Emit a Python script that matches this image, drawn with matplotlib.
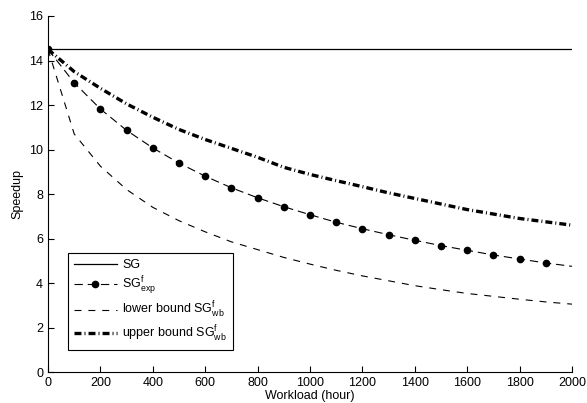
import numpy as np
import matplotlib
matplotlib.use("Agg")
import matplotlib.pyplot as plt

plt.rcParams['font.family'] = ['Liberation Sans', 'DejaVu Sans']
plt.rcParams['mathtext.fontset'] = 'custom'
plt.rcParams['mathtext.rm'] = 'Liberation Sans'
plt.rcParams['mathtext.it'] = 'Liberation Sans'
plt.rcParams['lines.scale_dashes'] = False

workload = [0, 100, 200, 300, 400, 500, 600, 700, 800, 900, 1000,
            1100, 1200, 1300, 1400, 1500, 1600, 1700, 1800, 1900, 2000]
sg = [14.5] * 21
sg_exp = [14.5, 13.0, 11.82, 10.86, 10.07, 9.39, 8.80, 8.28, 7.83, 7.43, 7.07,
          6.73, 6.44, 6.17, 5.92, 5.68, 5.47, 5.26, 5.08, 4.90, 4.75]
lower_wb = [14.5, 10.7, 9.25, 8.2, 7.4, 6.8, 6.3, 5.85, 5.5, 5.15, 4.85,
            4.57, 4.32, 4.1, 3.88, 3.7, 3.53, 3.4, 3.27, 3.15, 3.05]
upper_wb = [14.5, 13.5, 12.75, 12.05, 11.45, 10.9, 10.45, 10.05, 9.65, 9.2, 8.88,
            8.6, 8.33, 8.05, 7.8, 7.55, 7.3, 7.1, 6.9, 6.75, 6.6]

xticks = [0, 200, 400, 600, 800, 1000, 1200, 1400, 1600, 1800, 2000]
yticks = [0, 2, 4, 6, 8, 10, 12, 14, 16]

fig = plt.figure(figsize=(5.87, 4.03), dpi=100)
ax = fig.add_axes([0.0818, 0.0769, 0.8926, 0.8834])

ax.plot(workload, sg, color='black', lw=0.9, label='SG')
ax.plot(workload, sg_exp, color='black', lw=0.8, dashes=(6, 3.5),
        marker='o', markersize=4.5, markevery=list(range(20)),
        label=r'SG$^{\mathrm{f}}_{\mathrm{exp}}$')
ax.plot(workload, lower_wb, color='black', lw=0.8, dashes=(5, 5),
        label=r'lower bound SG$^{\mathrm{f}}_{\mathrm{wb}}$')
ax.plot(workload, upper_wb, color='black', lw=2.4, dashes=(5, 2.2, 0.7, 2.2),
        dash_capstyle='butt', label=r'upper bound SG$^{\mathrm{f}}_{\mathrm{wb}}$')

ax.set_xlim(0, 2000)
ax.set_ylim(0, 16)
ax.set_xticks(xticks)
ax.set_yticks(yticks)
ax.tick_params(direction='in', length=4, width=0.8, labelsize=9, colors='black')
for s in ['top', 'right']:
    ax.spines[s].set_visible(False)
for s in ['left', 'bottom']:
    ax.spines[s].set_linewidth(0.8)

ax.set_xlabel('Workload (hour)', fontsize=9, labelpad=0.5)
ax.set_ylabel('Speedup', fontsize=9, labelpad=4)

leg = ax.legend(loc='lower left', bbox_to_anchor=(0.038, 0.062), borderaxespad=0,
                fontsize=9, fancybox=False, edgecolor='black', framealpha=1,
                handlelength=3.4, labelspacing=0.28, borderpad=0.5, handletextpad=0.45)
leg.get_frame().set_linewidth(0.8)

fig.savefig('out.png', dpi=100)
